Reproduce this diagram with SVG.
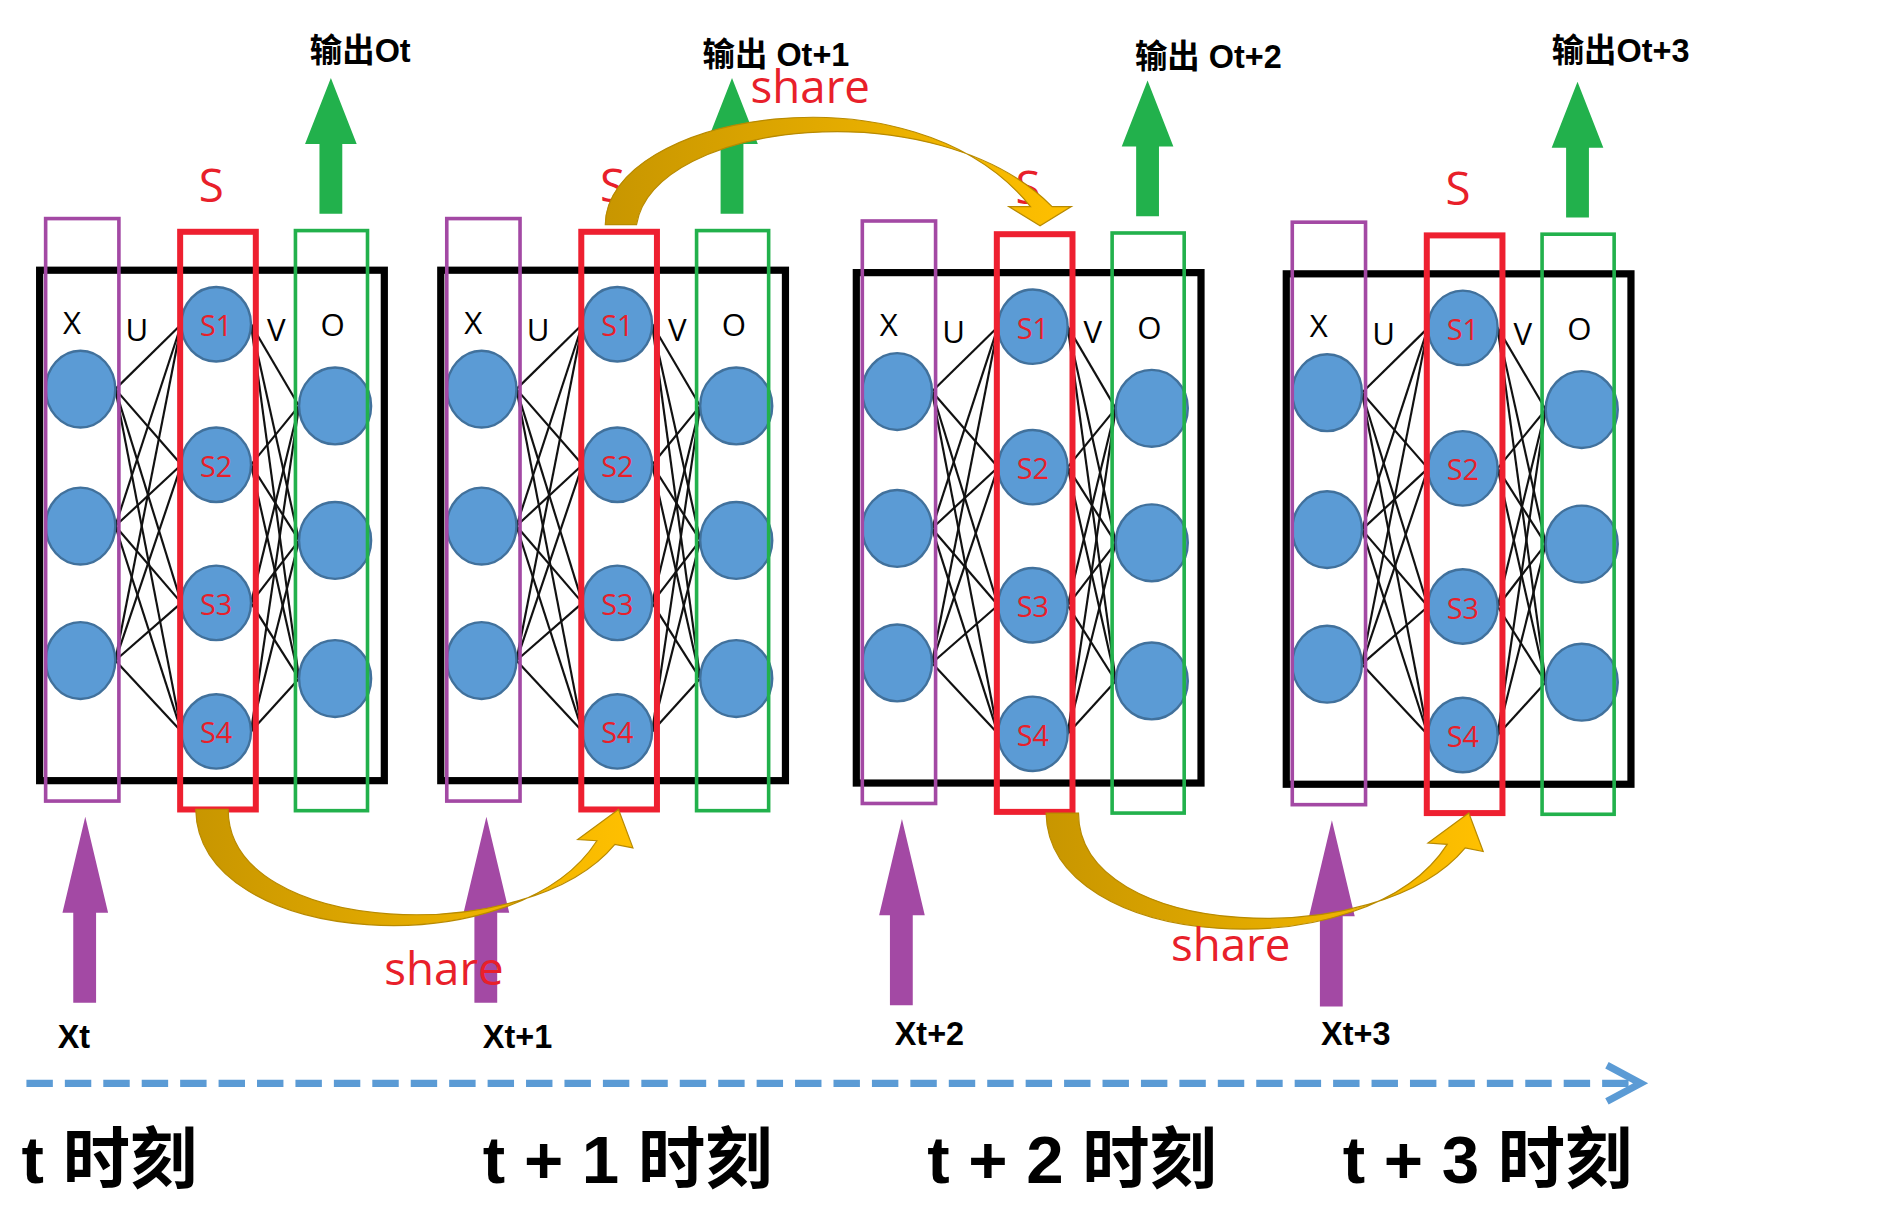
<svg xmlns="http://www.w3.org/2000/svg" xmlns:xlink="http://www.w3.org/1999/xlink" width="1881" height="1232" viewBox="0 0 1881 1232">
<style>
.bk{fill:none;stroke:#000;stroke-width:6}
.pu{fill:none;stroke:#A349A4;stroke-width:3}
.rd{fill:none;stroke:#EE2030;stroke-width:5}
.gr{fill:none;stroke:#22B14C;stroke-width:3}
.nd{fill:#5B9BD5;stroke:#41719C;stroke-width:2}
.ln{stroke:#111;stroke-width:1.8}
.lb{font-family:"Open Sans","Liberation Sans",sans-serif;font-size:26px;fill:#000}
.sl{font-family:"Open Sans","Liberation Sans",sans-serif;font-size:24px;fill:#E8202A}
.big{font-family:"Open Sans","Liberation Sans",sans-serif;font-size:38px;fill:#E8202A}
.hd{font-family:"Liberation Sans","Noto Sans CJK SC",sans-serif;font-size:27px;font-weight:bold;fill:#000}
.tm{font-family:"Liberation Sans","Noto Sans CJK SC",sans-serif;font-size:56px;font-weight:bold;fill:#000}
.ga{fill:#22B14C}
.pa{fill:#A349A4}
</style>
<defs>
<linearGradient id="gold" x1="0" y1="0" x2="1" y2="0">
<stop offset="0" stop-color="#C89600"/><stop offset="1" stop-color="#FFC000"/>
</linearGradient>
<g id="module">
<rect class="bk" x="33" y="225" width="287" height="425"/>
<g>
<line class="ln" x1="96" y1="324" x2="151" y2="270"/><line class="ln" x1="96" y1="324" x2="151" y2="387"/><line class="ln" x1="96" y1="324" x2="151" y2="502"/><line class="ln" x1="96" y1="324" x2="151" y2="609"/>
<line class="ln" x1="96" y1="438" x2="151" y2="270"/><line class="ln" x1="96" y1="438" x2="151" y2="387"/><line class="ln" x1="96" y1="438" x2="151" y2="502"/><line class="ln" x1="96" y1="438" x2="151" y2="609"/>
<line class="ln" x1="96" y1="550" x2="151" y2="270"/><line class="ln" x1="96" y1="550" x2="151" y2="387"/><line class="ln" x1="96" y1="550" x2="151" y2="502"/><line class="ln" x1="96" y1="550" x2="151" y2="609"/>
<line class="ln" x1="209" y1="270" x2="249" y2="338"/><line class="ln" x1="209" y1="270" x2="249" y2="450"/><line class="ln" x1="209" y1="270" x2="249" y2="565"/>
<line class="ln" x1="209" y1="387" x2="249" y2="338"/><line class="ln" x1="209" y1="387" x2="249" y2="450"/><line class="ln" x1="209" y1="387" x2="249" y2="565"/>
<line class="ln" x1="209" y1="502" x2="249" y2="338"/><line class="ln" x1="209" y1="502" x2="249" y2="450"/><line class="ln" x1="209" y1="502" x2="249" y2="565"/>
<line class="ln" x1="209" y1="609" x2="249" y2="338"/><line class="ln" x1="209" y1="609" x2="249" y2="450"/><line class="ln" x1="209" y1="609" x2="249" y2="565"/>
</g>
<ellipse class="nd" cx="67" cy="324" rx="29" ry="32"/><ellipse class="nd" cx="67" cy="438" rx="29" ry="32"/><ellipse class="nd" cx="67" cy="550" rx="29" ry="32"/>
<ellipse class="nd" cx="180" cy="270" rx="29" ry="31"/><ellipse class="nd" cx="180" cy="387" rx="29" ry="31"/><ellipse class="nd" cx="180" cy="502" rx="29" ry="31"/><ellipse class="nd" cx="180" cy="609" rx="29" ry="31"/>
<ellipse class="nd" cx="279" cy="338" rx="30" ry="32"/><ellipse class="nd" cx="279" cy="450" rx="30" ry="32"/><ellipse class="nd" cx="279" cy="565" rx="30" ry="32"/>
<text class="sl" x="180" y="280" text-anchor="middle">S1</text><text class="sl" x="180" y="397" text-anchor="middle">S2</text><text class="sl" x="180" y="512" text-anchor="middle">S3</text><text class="sl" x="180" y="619" text-anchor="middle">S4</text>
<rect class="pu" x="38" y="182" width="61" height="485"/>
<rect class="rd" x="150" y="193" width="63" height="481"/>
<rect class="gr" x="246" y="192" width="60" height="483"/>
<text class="lb" x="60" y="278" text-anchor="middle">X</text><text class="lb" x="114" y="284" text-anchor="middle">U</text><text class="lb" x="230" y="284" text-anchor="middle">V</text><text class="lb" x="277" y="280" text-anchor="middle">O</text>
<text class="big" x="176" y="168" text-anchor="middle">S</text>
<path class="ga" d="M266 178 V120 H254 L275.5 65 L297 120 H285 V178 Z"/>
<path class="pa" d="M61 835 V760 H52 L71 680 L90 760 H80 V835 Z"/>
</g>
</defs>
<g transform="scale(1.201)">
<g id="module1"><use xlink:href="#module"/><text class="hd" x="258" y="52">输出Ot</text><text class="hd" x="48" y="873">Xt</text></g>
<g id="module2"><use xlink:href="#module" transform="translate(334,0)"/><text class="hd" x="585" y="55">输出  Ot+1</text><text class="hd" x="402" y="873">Xt+1</text></g>
<g id="module3"><use xlink:href="#module" transform="translate(680,2)"/><text class="hd" x="945" y="57">输出  Ot+2</text><text class="hd" x="745" y="870">Xt+2</text></g>
<g id="module4"><use xlink:href="#module" transform="translate(1038,3)"/><text class="hd" x="1292" y="52">输出Ot+3</text><text class="hd" x="1100" y="870">Xt+3</text></g>
<g id="connectors">
<path fill="url(#gold)" stroke="#B88A00" stroke-width="1" d="M163 674 C165 790 430 805 497 700 L481 699 L515 674 L527 706 L512 703 C440 790 190 780 190 674 Z"/>
<path fill="url(#gold)" stroke="#B88A00" stroke-width="1" d="M504 187 C505 95 760 50 858 172 L840 172 L866 188 L892 172 L876 172 C780 75 545 100 530 187 Z"/>
<path fill="url(#gold)" stroke="#B88A00" stroke-width="1" transform="translate(708,3)" d="M163 674 C165 790 430 805 497 700 L481 699 L515 674 L527 706 L512 703 C440 790 190 780 190 674 Z"/>
<line x1="22" y1="902" x2="1362" y2="902" stroke="#5B9BD5" stroke-width="6" stroke-dasharray="22 10"/>
<polyline points="1338,887 1366,902 1338,917" fill="none" stroke="#5B9BD5" stroke-width="6"/>
</g>
<text class="big" x="320" y="820">share</text>
<text class="big" x="625" y="86">share</text>
<text class="big" x="975" y="800">share</text>
<text class="tm" x="18" y="985">t 时刻</text>
<text class="tm" x="402" y="985">t + 1 时刻</text>
<text class="tm" x="772" y="985">t + 2 时刻</text>
<text class="tm" x="1118" y="985">t + 3 时刻</text>
</g>
</svg>
